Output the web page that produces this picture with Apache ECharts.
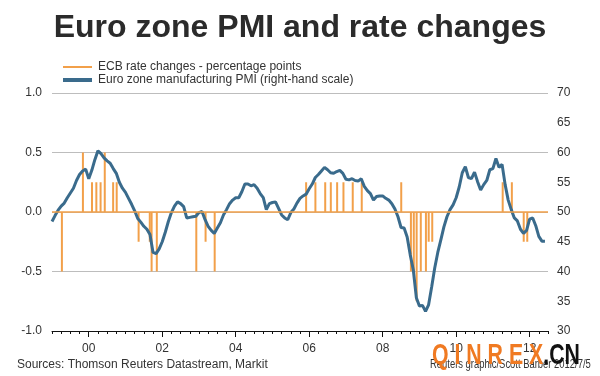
<!DOCTYPE html>
<html>
<head>
<meta charset="utf-8">
<script src="https://cdn.jsdelivr.net/npm/echarts@6/dist/echarts.min.js"></script>
<style>
html,body{margin:0;padding:0;background:#fff;}
#chart{width:600px;height:376px;}
</style>
</head>
<body>
<div id="chart"></div>
<script>
// euro zone manufacturing PMI, monthly from Jan 1999 to Jun 2012
const pmiStart = 1999;
const pmi = [
  48.4, 49.4, 50.3, 51.0, 51.5, 52.4, 53.2, 54.0, 55.3, 56.3, 56.9, 57.2, // 1999
  55.6, 57.0, 58.8, 60.3, 59.8, 59.1, 58.6, 58.2, 57.3, 56.5, 55.0, 54.0, // 2000
  53.3, 52.3, 51.3, 50.2, 48.9, 48.3, 47.6, 47.1, 46.2, 43.2, 43.0, 43.8, // 2001
  45.0, 46.6, 48.4, 49.9, 51.0, 51.7, 51.4, 50.9, 49.0, 49.1, 49.2, 49.3, // 2002
  49.9, 50.1, 48.7, 47.6, 46.9, 46.4, 47.3, 48.2, 49.5, 50.4, 51.4, 52.0, // 2003
  52.4, 52.4, 53.4, 54.7, 54.7, 54.4, 54.6, 54.0, 53.1, 52.4, 50.4, 51.4, // 2004
  51.6, 51.7, 50.6, 49.5, 49.0, 48.7, 49.9, 50.5, 51.5, 52.3, 52.7, 53.0, // 2005
  53.9, 54.7, 55.8, 56.3, 56.9, 57.5, 57.1, 56.6, 56.5, 56.8, 57.0, 56.5, // 2006
  55.5, 55.4, 55.6, 55.3, 55.2, 55.6, 54.3, 53.6, 53.1, 52.0, 52.6, 52.7, // 2007
  52.7, 52.3, 52.0, 51.4, 50.5, 49.2, 47.4, 47.3, 45.8, 42.8, 40.3, 35.6, // 2008
  34.2, 34.3, 33.3, 34.4, 37.4, 40.6, 43.2, 45.3, 47.5, 49.2, 50.4, 51.2, // 2009
  52.4, 54.2, 56.6, 57.6, 55.8, 55.6, 56.7, 55.1, 53.7, 54.6, 55.3, 57.1, // 2010
  57.3, 59.0, 57.5, 58.0, 54.6, 52.0, 50.4, 49.0, 48.5, 47.1, 46.4, 46.9, // 2011
  48.8, 49.0, 47.7, 45.9, 45.1, 45.1                                      // 2012
];

// ECB rate decisions (percentage points)
const rateDates = [
  '1999-04-08','1999-11-04','2000-02-03','2000-03-16','2000-04-27','2000-06-08',
  '2000-08-31','2000-10-05','2001-05-10','2001-08-30','2001-09-17','2001-11-08',
  '2002-12-05','2003-03-06','2003-06-05','2005-12-01','2006-03-02','2006-06-08',
  '2006-08-03','2006-10-05','2006-12-07','2007-03-08','2007-06-06','2008-07-03',
  '2008-10-08','2008-11-06','2008-12-04','2009-01-15','2009-03-05','2009-04-02',
  '2009-05-07','2011-04-07','2011-07-07','2011-11-03','2011-12-08'
];
const rateChanges = [
  -0.5, 0.5, 0.25, 0.25, 0.25, 0.5,
  0.25, 0.25, -0.25, -0.25, -0.5, -0.5,
  -0.5, -0.25, -0.5, 0.25, 0.25, 0.25,
  0.25, 0.25, 0.25, 0.25, 0.25, 0.25,
  -0.5, -0.5, -0.75, -0.5, -0.5, -0.25,
  -0.25, 0.25, 0.25, -0.25, -0.25
];

const yearLabels = [2000, 2002, 2004, 2006, 2008, 2010, 2012];

const ORANGE = '#F2A04A';
const BLUE = '#3A6B8C';
const TEXT = '#333';
const FONT = 'Arial, "Liberation Sans", sans-serif';

function toYear(s){
  const p = s.split('-').map(Number);
  const dim = new Date(p[0], p[1], 0).getDate();
  return p[0] + (p[1]-1)/12 + (p[2]-1)/(12*dim);
}

const quarterTicks = [];
for(let t=1999; t<=2012.5+1e-9; t+=0.25) quarterTicks.push(t);

const rateData = rateDates.map((d,i)=>[toYear(d), rateChanges[i]]);
const pmiData = pmi.map((v,i)=>[pmiStart + i/12, v]);

const chart = echarts.init(document.getElementById('chart'), null, {renderer:'canvas'});
const option = {
  animation:false,
  backgroundColor:'#fff',
  textStyle:{fontFamily:FONT},
  title:{
    text:'Euro zone PMI and rate changes',
    left:'center',
    top:7,
    textStyle:{fontSize:32,fontWeight:'bold',color:'#2b2b2b',fontFamily:FONT}
  },
  legend:[{
    left:58, top:56, orient:'vertical',
    itemWidth:29, itemHeight:2, itemGap:4,
    icon:'rect',
    data:['ECB rate changes - percentage points'],
    textStyle:{fontSize:12,color:TEXT,padding:[0,0,0,1]}
  },{
    left:58, top:69, orient:'vertical',
    itemWidth:29, itemHeight:4, itemGap:4,
    icon:'rect',
    data:['Euro zone manufacturing PMI (right-hand scale)'],
    textStyle:{fontSize:12,color:TEXT,padding:[0,0,0,1]}
  }],
  grid:{left:52,right:52,top:93,bottom:45},
  xAxis:[{
    type:'value', min:1999, max:2012.5,
    axisLine:{show:true,onZero:false,lineStyle:{color:'#111',width:1}},
    axisTick:{show:true,customValues:quarterTicks,length:3,lineStyle:{color:'#111'}},
    axisLabel:{show:false},
    splitLine:{show:false}
  },{
    type:'value', min:1999, max:2012.5, position:'bottom',
    axisLine:{show:false,onZero:false},
    axisTick:{show:true,customValues:yearLabels,length:6,lineStyle:{color:'#111'}},
    axisLabel:{show:true,customValues:yearLabels,margin:12,fontSize:12,color:TEXT,
      formatter:v=>String(Math.round(v)).slice(2)},
    splitLine:{show:false}
  }],
  yAxis:[{
    type:'value', min:-1, max:1, interval:0.5,
    axisLine:{show:false}, axisTick:{show:false},
    axisLabel:{fontSize:12,color:TEXT,margin:10,formatter:v=>v.toFixed(1)},
    splitLine:{show:true,lineStyle:{color:'#bdbdbd',width:1}}
  },{
    type:'value', min:30, max:70, interval:5,
    axisLine:{show:false}, axisTick:{show:false},
    axisLabel:{fontSize:12,color:TEXT,margin:9},
    splitLine:{show:false}
  }],
  series:[{
    name:'ECB rate changes - percentage points',
    type:'bar',
    xAxisIndex:0, yAxisIndex:0,
    barWidth:2,
    itemStyle:{color:ORANGE},
    data:rateData,
    markLine:{
      silent:true, symbol:'none', label:{show:false},
      lineStyle:{color:ORANGE,width:1.5,type:'solid'},
      data:[{yAxis:0}]
    }
  },{
    name:'Euro zone manufacturing PMI (right-hand scale)',
    type:'line',
    xAxisIndex:0, yAxisIndex:1,
    symbol:'none',
    lineStyle:{color:BLUE,width:3},
    itemStyle:{color:BLUE},
    data:pmiData,
    z:3
  }],
  graphic:[{
    type:'text', left:17, top:359,
    style:{text:'Sources: Thomson Reuters Datastream, Markit',fontSize:12,fill:TEXT,fontFamily:FONT}
  },{
    type:'text', x:430, y:359, scaleX:0.785,
    style:{text:'Reuters graphic/Scott Barber 2012/7/5',fontSize:12,fill:TEXT,fontFamily:FONT}
  },{
    type:'text', x:432, y:341, scaleX:0.71, z:10,
    style:{
      text:'{o|Q I N R E X}{k|.CN}',
      rich:{
        o:{fontSize:30,fontWeight:'bold',fill:'#F07A22',fontFamily:FONT},
        k:{fontSize:30,fontWeight:'bold',fill:'#111',fontFamily:FONT}
      }
    }
  }]
};
chart.setOption(option);
</script>
</body>
</html>
